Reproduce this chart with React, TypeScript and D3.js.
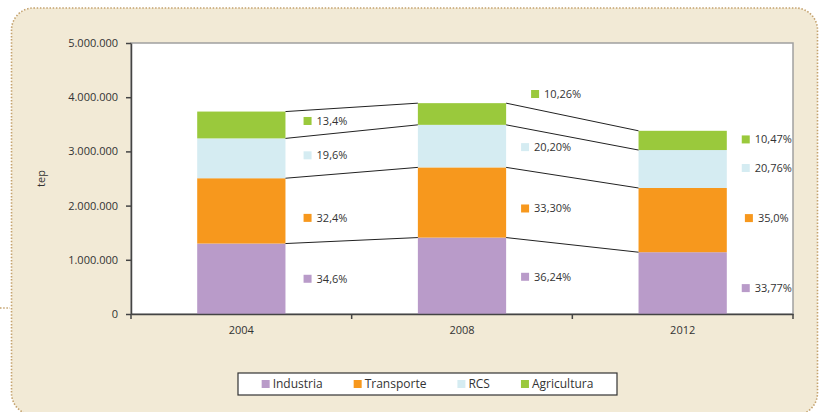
import * as d3 from "d3";
import { useEffect, useRef } from "react";

// datos (tep)
const years = ["2004", "2008", "2012"];
const seriesNames = ["Industria", "Transporte", "RCS", "Agricultura"];
const industria = [1300000, 1410000, 1140000];
const transporte = [1205000, 1295000, 1185000];
const rcs = [735000, 785000, 700000];
const agricultura = [495000, 400000, 355000];

// etiquetas de porcentaje
const industriaPct = ["34,6%", "36,24%", "33,77%"];
const transportePct = ["32,4%", "33,30%", "35,0%"];
const rcsPct = ["19,6%", "20,20%", "20,76%"];
const agriculturaPct = ["13,4%", "10,26%", "10,47%"];

const yTicks = [0, 1000000, 2000000, 3000000, 4000000, 5000000];
const colors = ["#b99bc9", "#f7981d", "#d5ecf2", "#9ac93c"];

const W = 819;
const H = 412;
const FONT = "'Open Sans', sans-serif";

const measure = (txt: string, size = 11) => {
  const ctx = document.createElement("canvas").getContext("2d");
  if (!ctx) return txt.length * 6;
  ctx.font = `${size}px 'Open Sans'`;
  return ctx.measureText(txt).width;
};

const App = () => {
  const ref = useRef<SVGSVGElement>(null);

  useEffect(() => {
    const svg = d3.select(ref.current);
    svg.selectAll("*").remove();

    const margin = { top: 43, bottom: 98, left: 131, right: 26 };

    // fondo con borde punteado
    svg.append("rect")
      .attr("x", 11.5).attr("y", 8)
      .attr("width", 806).attr("height", 407)
      .attr("rx", 22)
      .attr("fill", "#f2ead6")
      .attr("stroke", "#c4a26e")
      .attr("stroke-width", 1.6)
      .attr("stroke-dasharray", "1.5,1.7");
    svg.append("line")
      .attr("x1", 0).attr("x2", 10).attr("y1", 308).attr("y2", 308)
      .attr("stroke", "#c4a26e").attr("stroke-width", 1.6)
      .attr("stroke-dasharray", "1.5,1.7");

    const rows = years.map((y, i) => ({
      year: y,
      Industria: industria[i],
      Transporte: transporte[i],
      RCS: rcs[i],
      Agricultura: agricultura[i],
    }));
    const pcts = [industriaPct, transportePct, rcsPct, agriculturaPct];
    const stacked = d3.stack<any>().keys(seriesNames)(rows);

    const x = d3.scaleBand()
      .domain(years)
      .range([margin.left, W - margin.right])
      .paddingInner(0.6)
      .paddingOuter(0.3);
    const y = d3.scaleLinear()
      .domain([0, 5000000])
      .range([H - margin.bottom, margin.top]);

    // area del grafico
    svg.append("rect")
      .attr("x", margin.left).attr("y", margin.top)
      .attr("width", W - margin.left - margin.right)
      .attr("height", H - margin.top - margin.bottom)
      .attr("fill", "#fff")
      .attr("stroke", "#a0a0a0")
      .attr("stroke-width", 1.5);

    // barras
    stacked.forEach((layer, si) => {
      svg.append("g")
        .selectAll("rect")
        .data(layer)
        .enter()
        .append("rect")
        .attr("x", (d: any) => x(d.data.year)!)
        .attr("y", (d) => y(d[1]))
        .attr("width", x.bandwidth())
        .attr("height", (d) => y(d[0]) - y(d[1]))
        .attr("fill", colors[si]);
    });

    // lineas de serie entre barras
    stacked.forEach((layer) => {
      for (let i = 0; i < layer.length - 1; i++) {
        svg.append("line")
          .attr("x1", x(years[i])! + x.bandwidth())
          .attr("y1", y(layer[i][1]))
          .attr("x2", x(years[i + 1])!)
          .attr("y2", y(layer[i + 1][1]))
          .attr("stroke", "#222")
          .attr("stroke-width", 1);
      }
    });

    // ajustes finos de posicion de etiquetas [serie][año] en px
    const nudgeY = [[0, 1, 5], [7, 6, -2], [-3, 1, -1], [-4, -20, -1]];
    const nudgeX = [[0, 0, 0], [0, 0, 0], [0, 0, 0], [0, 10, 0]];

    stacked.forEach((layer, si) => {
      layer.forEach((d: any, i) => {
        const txt = pcts[si][i];
        const tw = measure(txt);
        const total = 8 + 5 + tw;
        const cx = x(years[i])! + x.bandwidth() + 40 + nudgeX[si][i];
        const cy = (y(d[0]) + y(d[1])) / 2 + nudgeY[si][i];
        const x0 = cx - total / 2;
        svg.append("rect")
          .attr("x", x0).attr("y", cy - 4)
          .attr("width", 8).attr("height", 8)
          .attr("fill", colors[si]);
        svg.append("text")
          .attr("x", x0 + 13).attr("y", cy)
          .attr("dy", "0.35em")
          .attr("font-family", FONT)
          .attr("font-size", 11)
          .attr("fill", "#333")
          .text(txt);
      });
    });

    // eje Y
    const loc = d3.formatLocale({ decimal: ",", thousands: ".", grouping: [3], currency: ["", ""] });
    const yAxis = d3.axisLeft(y)
      .tickValues(yTicks)
      .tickFormat(loc.format(",") as any)
      .tickSizeInner(5)
      .tickSizeOuter(0)
      .tickPadding(8);
    const gy = svg.append("g")
      .attr("transform", `translate(${margin.left},0)`)
      .call(yAxis);
    gy.selectAll("text").attr("font-family", FONT).attr("font-size", 11).attr("fill", "#333");
    gy.selectAll("line, path").attr("stroke", "#444").attr("stroke-width", 1.5);

    // eje X
    const xAxis = d3.axisBottom(x).tickSize(0).tickPadding(12);
    const gx = svg.append("g")
      .attr("transform", `translate(0,${H - margin.bottom})`)
      .call(xAxis);
    gx.select(".domain").attr("stroke", "#444").attr("stroke-width", 1.5);
    gx.selectAll("text").attr("font-family", FONT).attr("font-size", 11).attr("fill", "#333");
    const step = x.step();
    const bounds = d3.range(years.length + 1).map((i) => margin.left + i * step);
    gx.selectAll(".bound")
      .data(bounds)
      .enter()
      .append("line")
      .attr("x1", (d) => d).attr("x2", (d) => d)
      .attr("y1", 0).attr("y2", 5)
      .attr("stroke", "#444").attr("stroke-width", 1.5);

    // titulo eje Y
    svg.append("text")
      .attr("transform", `translate(45,${(margin.top + H - margin.bottom) / 2}) rotate(-90)`)
      .attr("text-anchor", "middle")
      .attr("font-family", FONT)
      .attr("font-size", 11)
      .attr("fill", "#333")
      .text("tep");

    // leyenda
    const legX = 238, legY = 373, legW = 379, legH = 22;
    svg.append("rect")
      .attr("x", legX).attr("y", legY)
      .attr("width", legW).attr("height", legH)
      .attr("fill", "#fff")
      .attr("stroke", "#333")
      .attr("stroke-width", 1.2);
    const gap = 31;
    const widths = seriesNames.map((n) => 8 + 3 + measure(n, 12));
    const totalW = d3.sum(widths) + gap * (seriesNames.length - 1);
    let lx = legX + legW / 2 - totalW / 2;
    seriesNames.forEach((n, i) => {
      svg.append("rect")
        .attr("x", lx).attr("y", legY + legH / 2 - 4)
        .attr("width", 8).attr("height", 8)
        .attr("fill", colors[i]);
      svg.append("text")
        .attr("x", lx + 11).attr("y", legY + legH / 2)
        .attr("dy", "0.35em")
        .attr("font-family", FONT)
        .attr("font-size", 12)
        .attr("fill", "#333")
        .text(n);
      lx += widths[i] + gap;
    });
  }, []);

  return (
    <svg
      ref={ref}
      width={W}
      height={H}
      style={{ position: "absolute", left: 0, top: 0, display: "block", background: "#fff" }}
    />
  );
};

export default App;
